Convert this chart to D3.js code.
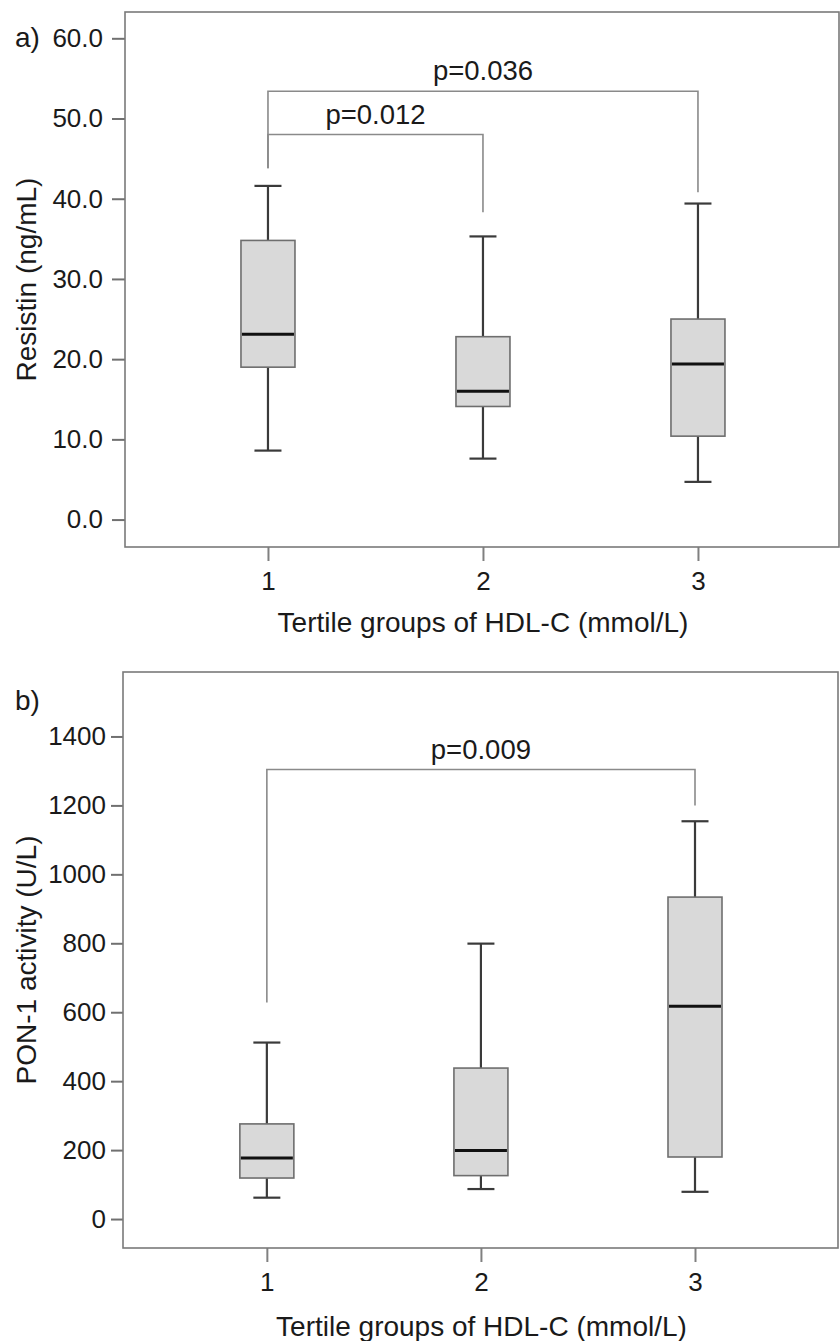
<!DOCTYPE html>
<html>
<head>
<meta charset="utf-8">
<script src="https://cdn.jsdelivr.net/npm/d3@7"></script>
<style>
  body { margin: 0; background: #fff; }
  text { font-family: "Liberation Sans", Arial, sans-serif; fill: #1a1a1a; }
</style>
</head>
<body>
<svg id="chart" width="840" height="1341"></svg>
<script>
// groups on the x axis
const groups = [1, 2, 3]

// a) Resistin (ng/mL)
const resLo  = [8.6, 7.6, 4.7]
const resQ1  = [19.0, 14.1, 10.4]
const resMed = [23.1, 16.0, 19.4]
const resQ3  = [34.8, 22.8, 25.0]
const resHi  = [41.6, 35.3, 39.4]
const resTicks = [0, 10, 20, 30, 40, 50, 60]
const resBrackets = [
    {from: 1, to: 3, y: 53.4, left: 43.8, right: 40.8, label: "p=0.036"},
    {from: 1, to: 2, y: 48.0, left: 43.8, right: 38.3, label: "p=0.012"}
]

// b) PON-1 activity (U/L)
const ponLo  = [62, 87, 79]
const ponQ1  = [119, 126, 180]
const ponMed = [177, 199, 617]
const ponQ3  = [276, 438, 934]
const ponHi  = [512, 799, 1154]
const ponTicks = [0, 200, 400, 600, 800, 1000, 1200, 1400]
const ponBrackets = [
    {from: 1, to: 3, y: 1304, left: 628, right: 1200, label: "p=0.009"}
]

const xTitle = "Tertile groups of HDL-C (mmol/L)"

const svg = d3.select("#chart")

const drawPanel = p => {
    let g = svg.append("g")
    let x = d3.scaleLinear().domain(p.xDomain).range([p.left, p.right])
    let y = d3.scaleLinear().domain(p.yDomain).range([p.bottom, p.top])

    let boxes = groups.map((k, i) => ({
        k: k, lo: p.lo[i], q1: p.q1[i], med: p.med[i], q3: p.q3[i], hi: p.hi[i]
    }))

    // y axis ticks
    let yAxis = g.append("g")
        .attr("transform", `translate(${p.left},0)`)
        .call(d3.axisLeft(y).tickValues(p.ticks).tickFormat(p.fmt)
            .tickSize(p.tickLen).tickPadding(p.tickPad))
    yAxis.select(".domain").remove()
    yAxis.selectAll("line").attr("stroke", "#707070").attr("stroke-width", 2)
    yAxis.selectAll("text").attr("font-size", 26).attr("fill", "#1a1a1a")
        .style("font-family", '"Liberation Sans", Arial, sans-serif')

    // x axis ticks
    let xAxis = g.append("g")
        .attr("transform", `translate(0,${p.bottom})`)
        .call(d3.axisBottom(x).tickValues(groups).tickFormat(d3.format("d"))
            .tickSize(14).tickPadding(11))
    xAxis.select(".domain").remove()
    xAxis.selectAll("line").attr("stroke", "#808080").attr("stroke-width", 2)
    xAxis.selectAll("text").attr("font-size", 26).attr("fill", "#1a1a1a")
        .style("font-family", '"Liberation Sans", Arial, sans-serif')

    // frame
    g.append("rect")
        .attr("x", p.left).attr("y", p.top)
        .attr("width", p.right - p.left).attr("height", p.bottom - p.top)
        .attr("fill", "none").attr("stroke", "#7a7a7a").attr("stroke-width", 1.6)

    let bw = 54
    let box = g.append("g").selectAll("g")
        .data(boxes).enter()
        .append("g")

    // whiskers
    box.append("line")
        .attr("x1", d => x(d.k)).attr("x2", d => x(d.k))
        .attr("y1", d => y(d.hi)).attr("y2", d => y(d.q3))
        .attr("stroke", "#3a3a3a").attr("stroke-width", 2.2)
    box.append("line")
        .attr("x1", d => x(d.k)).attr("x2", d => x(d.k))
        .attr("y1", d => y(d.q1)).attr("y2", d => y(d.lo))
        .attr("stroke", "#3a3a3a").attr("stroke-width", 2.2)
    box.append("line")
        .attr("x1", d => x(d.k) - bw / 4).attr("x2", d => x(d.k) + bw / 4)
        .attr("y1", d => y(d.hi)).attr("y2", d => y(d.hi))
        .attr("stroke", "#3a3a3a").attr("stroke-width", 2.2)
    box.append("line")
        .attr("x1", d => x(d.k) - bw / 4).attr("x2", d => x(d.k) + bw / 4)
        .attr("y1", d => y(d.lo)).attr("y2", d => y(d.lo))
        .attr("stroke", "#3a3a3a").attr("stroke-width", 2.2)

    // box
    box.append("rect")
        .attr("x", d => x(d.k) - bw / 2).attr("width", bw)
        .attr("y", d => y(d.q3)).attr("height", d => y(d.q1) - y(d.q3))
        .attr("fill", "#d9d9d9").attr("stroke", "#6e6e6e").attr("stroke-width", 1.6)

    // median
    box.append("line")
        .attr("x1", d => x(d.k) - bw / 2 + 1).attr("x2", d => x(d.k) + bw / 2 - 1)
        .attr("y1", d => y(d.med)).attr("y2", d => y(d.med))
        .attr("stroke", "#111").attr("stroke-width", 3)

    // significance brackets
    let br = g.append("g").selectAll("g")
        .data(p.brackets).enter()
        .append("g")
    br.append("path")
        .attr("d", d => `M${x(d.from)},${y(d.left)}V${y(d.y)}H${x(d.to)}V${y(d.right)}`)
        .attr("fill", "none").attr("stroke", "#8a8a8a").attr("stroke-width", 1.6)
    br.append("text")
        .attr("x", d => (x(d.from) + x(d.to)) / 2)
        .attr("y", d => y(d.y) - 11)
        .attr("text-anchor", "middle")
        .attr("font-size", 27.5)
        .text(d => d.label)

    // axis titles
    g.append("text")
        .attr("transform", `translate(36,${(p.top + p.bottom) / 2}) rotate(-90)`)
        .attr("text-anchor", "middle")
        .attr("font-size", 28)
        .text(p.yTitle)
    g.append("text")
        .attr("x", (p.left + p.right) / 2 + 1)
        .attr("y", p.xTitleY)
        .attr("text-anchor", "middle")
        .attr("font-size", 28)
        .text(xTitle)

    // panel letter
    g.append("text")
        .attr("x", 15).attr("y", p.letterY)
        .attr("font-size", 28)
        .text(p.letter)
}

drawPanel({
    letter: "a)", letterY: 47,
    left: 125, right: 839, top: 12, bottom: 547,
    xDomain: [0.335, 3.656], yDomain: [-3.42, 63.28],
    lo: resLo, q1: resQ1, med: resMed, q3: resQ3, hi: resHi,
    ticks: resTicks, fmt: d3.format(".1f"), tickLen: 13, tickPad: 9,
    brackets: resBrackets,
    yTitle: "Resistin (ng/mL)", xTitleY: 632
})

drawPanel({
    letter: "b)", letterY: 710,
    left: 123, right: 838, top: 672, bottom: 1248,
    xDomain: [0.328, 3.668], yDomain: [-84, 1587],
    lo: ponLo, q1: ponQ1, med: ponMed, q3: ponQ3, hi: ponHi,
    ticks: ponTicks, fmt: d3.format("d"), tickLen: 12, tickPad: 5,
    brackets: ponBrackets,
    yTitle: "PON-1 activity (U/L)", xTitleY: 1336
})
</script>
</body>
</html>
